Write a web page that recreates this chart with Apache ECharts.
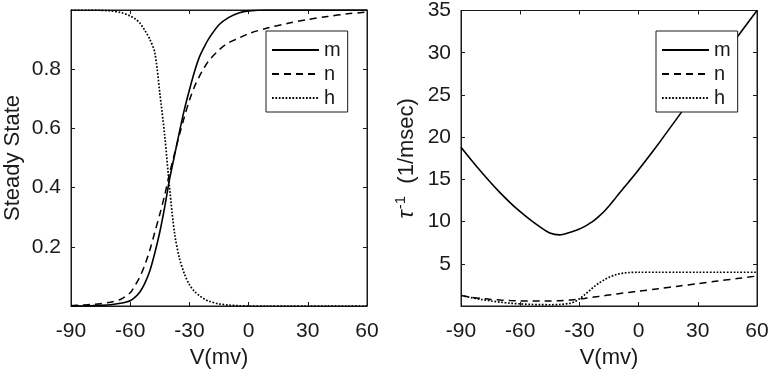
<!DOCTYPE html>
<html>
<head>
<meta charset="utf-8">
<script src="https://cdn.jsdelivr.net/npm/echarts@6/dist/echarts.min.js"></script>
<style>
  html, body { margin: 0; padding: 0; background: #fff; }
  #chart-container { width: 772px; height: 376px; }
</style>
</head>
<body>
<div id="chart-container"></div>
<script>
// steady state panel (left)
var vSS = [-90, -85, -80, -75, -70, -65, -60, -57.5, -55, -52.5, -50, -47.5, -45, -42.5, -40, -37.5,
  -35, -32.5, -30, -27.5, -25, -22.5, -20, -15, -10, -5, 0, 10, 20, 30, 40, 50, 60];
var mInf = [0, 0, 0.001, 0.002, 0.004, 0.009, 0.018, 0.03, 0.048, 0.078, 0.12, 0.18, 0.25, 0.335, 0.43, 0.51,
  0.59, 0.665, 0.73, 0.79, 0.84, 0.875, 0.905, 0.95, 0.975, 0.99, 0.997, 1, 1, 1, 1, 1, 1];
var nInf = [0.001, 0.003, 0.005, 0.008, 0.013, 0.022, 0.045, 0.07, 0.1, 0.14, 0.19, 0.25, 0.31, 0.375, 0.45, 0.515,
  0.58, 0.64, 0.695, 0.74, 0.775, 0.805, 0.83, 0.865, 0.89, 0.905, 0.92, 0.94, 0.955, 0.968, 0.978, 0.987, 0.993];
var hInf = [1, 1, 1, 0.999, 0.997, 0.992, 0.98, 0.97, 0.955, 0.93, 0.9, 0.855, 0.72, 0.575, 0.395, 0.245,
  0.16, 0.108, 0.072, 0.05, 0.035, 0.024, 0.016, 0.007, 0.003, 0.001, 0, 0, 0, 0, 0, 0, 0];

// rate panel (right)
var vTau = [-90, -85, -80, -75, -70, -65, -60, -55, -50, -45, -40, -35, -32.5, -30, -27.5, -25, -22.5,
  -20, -17.5, -15, -12.5, -10, -7.5, -5, 0, 10, 20, 30, 40, 50, 60];
var tauM = [18.8, 17.35, 15.95, 14.62, 13.37, 12.22, 11.17, 10.22, 9.37, 8.65, 8.43, 8.7, 8.9, 9.12, 9.4, 9.75, 10.15,
  10.65, 11.2, 11.85, 12.55, 13.3, 14.0, 14.7, 16.15, 19.2, 22.4, 25.6, 28.7, 31.85, 35.0];
var tauN = [1.25, 1.05, 0.9, 0.78, 0.7, 0.64, 0.6, 0.58, 0.58, 0.6, 0.63, 0.7, 0.76, 0.83, 0.9, 0.98, 1.06,
  1.14, 1.22, 1.3, 1.38, 1.46, 1.54, 1.61, 1.75, 2.05, 2.35, 2.65, 2.95, 3.25, 3.55];
var tauH = [1.25, 1.0, 0.78, 0.6, 0.45, 0.33, 0.25, 0.19, 0.16, 0.15, 0.18, 0.32, 0.5, 0.85, 1.3, 1.8, 2.3,
  2.72, 3.1, 3.4, 3.63, 3.8, 3.9, 3.96, 4.0, 4.0, 4.0, 4.0, 4.0, 4.0, 4.0];

var xTicks = { min: -90, max: 60, interval: 30 };
var gateNames = ['m', 'n', 'h'];

var FONT = '"Liberation Sans", Arial, sans-serif';
var INK = '#1a1a1a';
var dom = document.getElementById('chart-container');
var myChart = echarts.init(dom, null, { renderer: 'canvas' });

function pairs(xs, ys) {
  return xs.map(function (x, i) { return [x, ys[i]]; });
}

var styles = {
  m: { type: 'solid', width: 1.6 },
  n: { type: [7, 5], width: 1.5 },
  h: { type: [1.7, 1.7], width: 1.7 }
};

function axisX(grid, top) {
  return {
    type: 'value', gridIndex: grid, position: top ? 'top' : 'bottom',
    min: xTicks.min, max: xTicks.max, interval: xTicks.interval,
    name: top ? '' : 'V(mv)', nameLocation: 'middle', nameGap: 38,
    nameTextStyle: { fontFamily: FONT, fontSize: 22, color: INK },
    axisLine: { show: true, onZero: false, lineStyle: { color: INK, width: 1 } },
    axisTick: { show: true, inside: true, length: 4, lineStyle: { color: INK } },
    axisLabel: { show: !top, margin: 15, fontFamily: FONT, fontSize: 21, color: INK },
    splitLine: { show: false }
  };
}

function axisY(grid, right, min, max, interval, fmt, name) {
  return {
    type: 'value', gridIndex: grid, position: right ? 'right' : 'left',
    min: min, max: max, interval: interval,
    name: right ? '' : name, nameLocation: 'middle', nameRotate: 90,
    nameTextStyle: { fontFamily: FONT, fontSize: 22, color: INK },
    axisLine: { show: true, onZero: false, lineStyle: { color: INK, width: 1 } },
    axisTick: { show: true, inside: true, length: 4, lineStyle: { color: INK } },
    axisLabel: { show: !right, margin: 10, fontFamily: FONT, fontSize: 21, color: INK, formatter: fmt },
    splitLine: { show: false }
  };
}

var ssFmt = function (v) { return (v <= 0 || v >= 1) ? '' : v.toFixed(1); };
var tauFmt = function (v) { return v <= 0 ? '' : String(v); };

var yLeft = axisY(0, false, 0, 1, 0.2, ssFmt, 'Steady State');
yLeft.nameGap = 47;
var yRight = axisY(1, false, 0, 35, 5, tauFmt, '{t|τ}{s|-1}{r|  (1/msec)}');
yRight.nameGap = 41;
yRight.nameTextStyle.rich = {
  t: { fontFamily: FONT, fontSize: 22, color: INK, fontStyle: 'italic' },
  s: { fontFamily: FONT, fontSize: 15, color: INK, verticalAlign: 'top', padding: [0, 0, 12, 1] },
  r: { fontFamily: FONT, fontSize: 22, color: INK }
};

function seriesFor(grid, xs, ys, nm) {
  return {
    type: 'line', name: nm, xAxisIndex: grid * 2, yAxisIndex: grid * 2,
    data: pairs(xs, ys), symbol: 'none', smooth: 0.3, clip: true,
    itemStyle: { color: '#000' },
    lineStyle: { color: '#000', type: styles[nm].type, width: styles[nm].width }
  };
}

function legendAt(left) {
  return {
    orient: 'vertical', left: left, top: 31,
    data: gateNames.slice(),
    itemWidth: 47, itemHeight: 14, itemGap: 4,
    padding: [9, 7, 4, 5],
    backgroundColor: '#fff', borderColor: INK, borderWidth: 1, borderRadius: 0,
    itemStyle: { color: 'rgba(0,0,0,0)', borderWidth: 0 },
    textStyle: { fontFamily: FONT, fontSize: 20, color: INK },
    selectedMode: false
  };
}

var option = {
  animation: false,
  backgroundColor: '#fff',
  grid: [
    { left: 71, top: 10, width: 296, height: 296, show: true, borderColor: INK, borderWidth: 1, backgroundColor: 'transparent' },
    { left: 461, top: 10, width: 296, height: 296, show: true, borderColor: INK, borderWidth: 1, backgroundColor: 'transparent' }
  ],
  xAxis: [axisX(0, false), axisX(0, true), axisX(1, false), axisX(1, true)],
  yAxis: [yLeft, axisY(0, true, 0, 1, 0.2, ssFmt), yRight, axisY(1, true, 0, 35, 5, tauFmt)],
  legend: [legendAt(266), legendAt(656)],
  series: [
    seriesFor(0, vSS, mInf, 'm'),
    seriesFor(0, vSS, nInf, 'n'),
    seriesFor(0, vSS, hInf, 'h'),
    seriesFor(1, vTau, tauM, 'm'),
    seriesFor(1, vTau, tauN, 'n'),
    seriesFor(1, vTau, tauH, 'h')
  ]
};

myChart.setOption(option);
window.addEventListener('resize', myChart.resize);
</script>
</body>
</html>
